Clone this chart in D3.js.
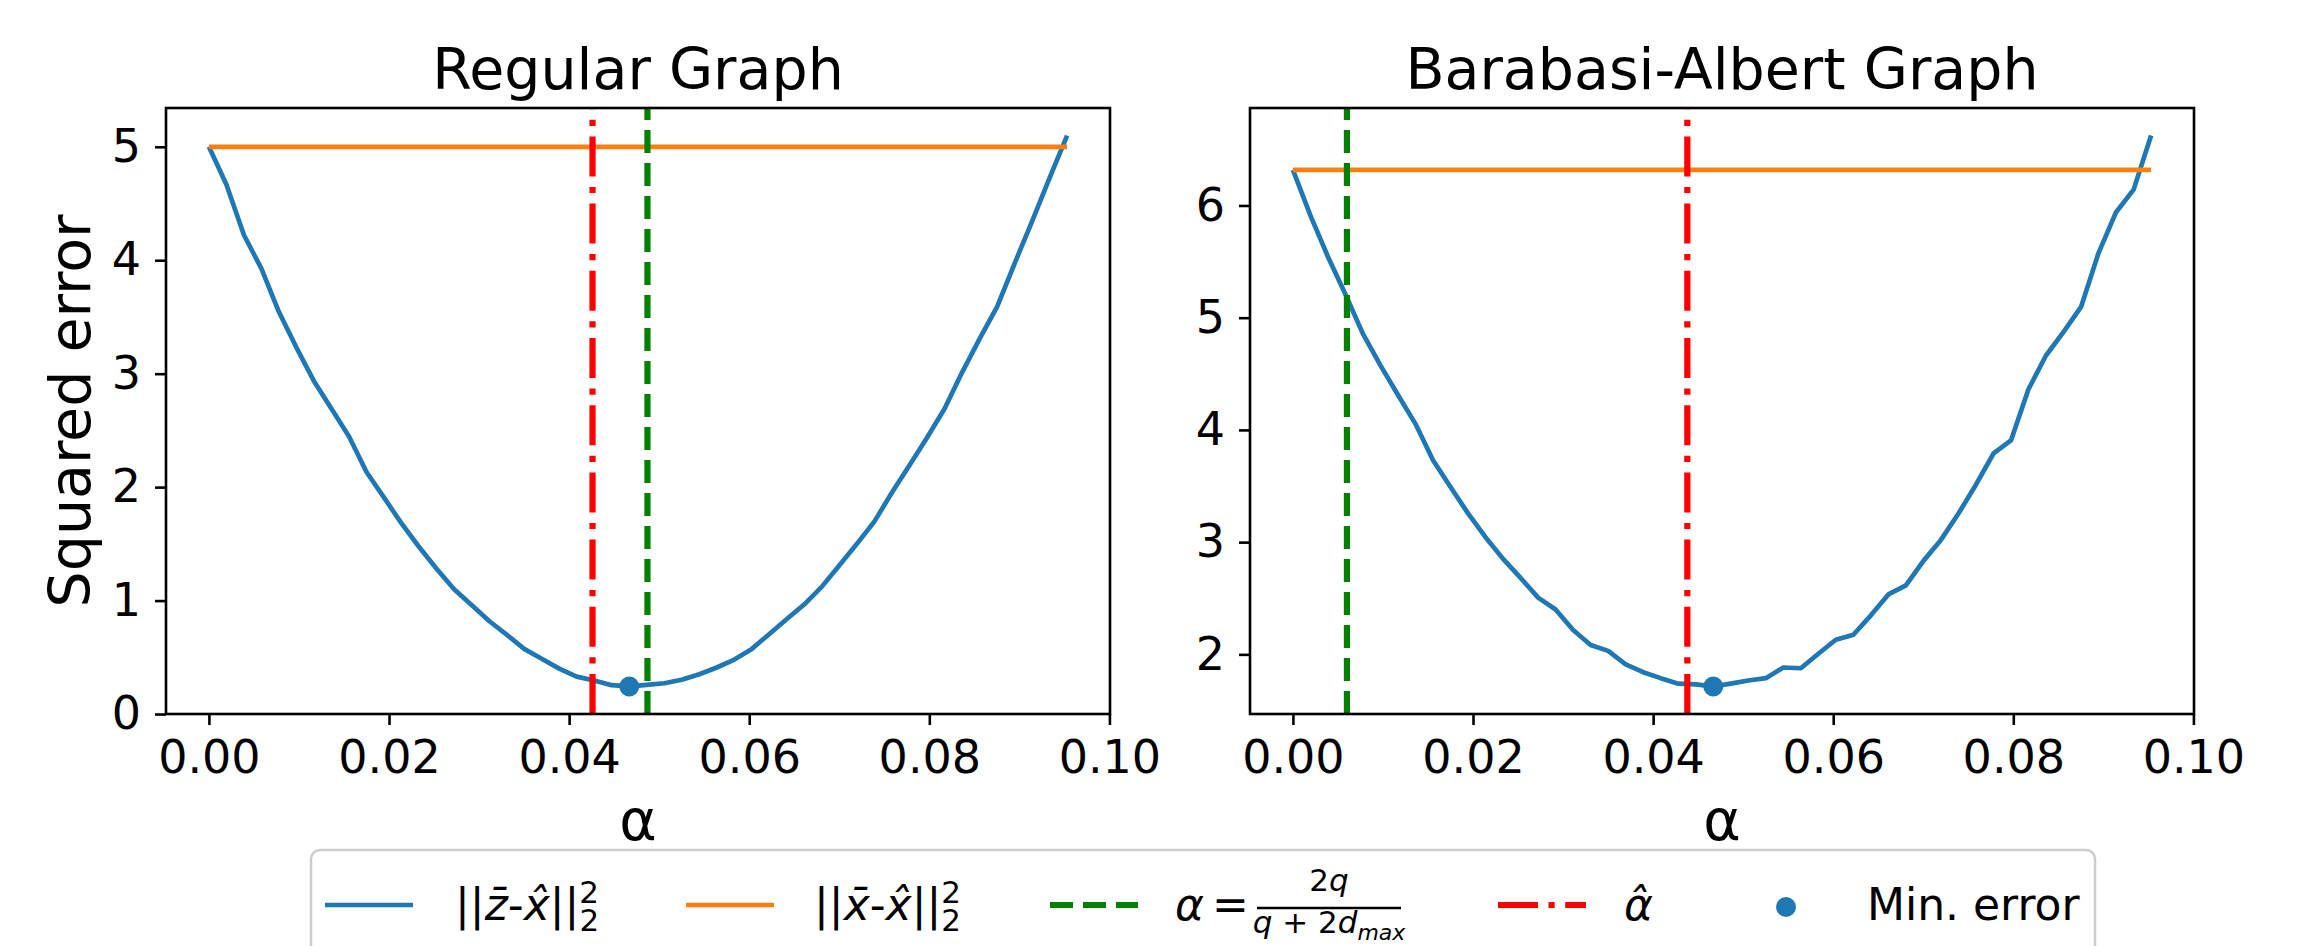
<!DOCTYPE html>
<html>
<head>
<meta charset="utf-8">
<script src="https://cdn.jsdelivr.net/npm/d3@7"></script>
<style>
  body { margin: 0; background: #fff; }
  text { font-family: "DejaVu Sans", sans-serif; }
</style>
</head>
<body>
<div id="chart"></div>
<script>
// Size of the figure
const WIDTH = 2305;
const HEIGHT = 946;

// Step size alpha (x values shared by both panels)
const alpha = [
  0, 0.00194, 0.00389, 0.00583, 0.00778, 0.00972, 0.01167, 0.01361, 0.01556, 0.0175,
  0.01945, 0.02139, 0.02334, 0.02528, 0.02723, 0.02917, 0.03112, 0.03306, 0.03501, 0.03695,
  0.0389, 0.04084, 0.04279, 0.04473, 0.04668, 0.04862, 0.05057, 0.05251, 0.05446, 0.0564,
  0.05835, 0.06029, 0.06224, 0.06418, 0.06613, 0.06807, 0.07002, 0.07196, 0.07391, 0.07585,
  0.0778, 0.07974, 0.08169, 0.08363, 0.08558, 0.08752, 0.08947, 0.09141, 0.09336, 0.0953
];

// ||z - x||^2 for the regular graph
const regularErr = [
  5.0, 4.667, 4.222, 3.926, 3.543, 3.23, 2.934, 2.69, 2.447, 2.133,
  1.907, 1.68, 1.472, 1.28, 1.1, 0.96, 0.82, 0.7, 0.574, 0.487,
  0.4, 0.33, 0.296, 0.254, 0.243, 0.257, 0.271, 0.302, 0.351, 0.41,
  0.48, 0.574, 0.706, 0.838, 0.967, 1.123, 1.312, 1.5, 1.698, 1.952,
  2.192, 2.436, 2.69, 3.01, 3.306, 3.588, 3.971, 4.343, 4.726, 5.099
];

// ||z - x||^2 for the Barabasi-Albert graph
const baErr = [
  6.317, 5.912, 5.543, 5.208, 4.856, 4.575, 4.311, 4.054, 3.73, 3.491,
  3.256, 3.044, 2.851, 2.682, 2.506, 2.4, 2.217, 2.084, 2.031, 1.911,
  1.841, 1.788, 1.739, 1.732, 1.714, 1.739, 1.767, 1.788, 1.883, 1.876,
  2.006, 2.13, 2.175, 2.348, 2.534, 2.615, 2.833, 3.02, 3.255, 3.512,
  3.79, 3.906, 4.364, 4.663, 4.874, 5.096, 5.578, 5.94, 6.141, 6.623
];

// ||x_bar - x||^2 (constant lines)
const baselineErr = [5.0, 6.317];

// vertical lines: alpha = 2q/(q+2dmax) and alpha hat
const alphaFormula = [0.0487, 0.006];
const alphaHat = [0.0426, 0.0438];

// Tick values
const xTicks = [0, 0.02, 0.04, 0.06, 0.08, 0.1];
const regularYTicks = [0, 1, 2, 3, 4, 5];
const baYTicks = [2, 3, 4, 5, 6];

const titles = ["Regular Graph", "Barabasi-Albert Graph"];

// Colours (matplotlib defaults)
const BLUE = "#1f77b4";
const ORANGE = "#ff7f0e";
const GREEN = "#008000";
const RED = "#ff0000";

const TOP = 108;
const BOTTOM = 714;
const AX_W = 944;
const LINE_W = 4.7;
const VLINE_W = 6.2;
const DASHED = "23,10";
const DASHDOT = "40,10.5,6.2,10.5";

var svg = d3
  .select("#chart")
  .append("svg")
  .attr("width", WIDTH)
  .attr("height", HEIGHT);

svg.append("rect").attr("width", WIDTH).attr("height", HEIGHT).attr("fill", "#fff");

/* matplotlib style autoscale: 5% margin */
function padded(vals) {
  const lo = d3.min(vals), hi = d3.max(vals);
  const m = (hi - lo) * 0.05;
  return [lo - m, hi + m];
}

function drawPanel(i, left, err, yTicks, withYLabel) {
  const g = svg.append("g");

  const x = d3.scaleLinear().domain(padded(alpha)).range([left, left + AX_W]);
  const y = d3
    .scaleLinear()
    .domain(padded(err.concat([baselineErr[i]])))
    .range([BOTTOM, TOP]);

  // clip
  g.append("clipPath")
    .attr("id", "clip" + i)
    .append("rect")
    .attr("x", left)
    .attr("y", TOP)
    .attr("width", AX_W)
    .attr("height", BOTTOM - TOP);

  const plot = g.append("g").attr("clip-path", "url(#clip" + i + ")");

  const line = d3
    .line()
    .x((d) => x(d[0]))
    .y((d) => y(d[1]));

  // error curve
  plot
    .append("path")
    .datum(alpha.map((a, k) => [a, err[k]]))
    .attr("d", line)
    .attr("fill", "none")
    .attr("stroke", BLUE)
    .attr("stroke-width", LINE_W)
    .attr("stroke-linejoin", "round");

  // baseline
  plot
    .append("path")
    .datum([
      [alpha[0], baselineErr[i]],
      [alpha[alpha.length - 1], baselineErr[i]]
    ])
    .attr("d", line)
    .attr("fill", "none")
    .attr("stroke", ORANGE)
    .attr("stroke-width", LINE_W);

  // vertical lines
  const yd = y.domain();
  plot
    .append("path")
    .datum([[alphaFormula[i], yd[0]], [alphaFormula[i], yd[1]]])
    .attr("d", line)
    .attr("stroke", GREEN)
    .attr("stroke-width", VLINE_W)
    .attr("stroke-dasharray", DASHED);

  plot
    .append("path")
    .datum([[alphaHat[i], yd[0]], [alphaHat[i], yd[1]]])
    .attr("d", line)
    .attr("stroke", RED)
    .attr("stroke-width", VLINE_W)
    .attr("stroke-dasharray", DASHDOT);

  // min error
  const k = d3.minIndex(err);
  plot
    .append("circle")
    .attr("cx", x(alpha[k]))
    .attr("cy", y(err[k]))
    .attr("r", 10)
    .attr("fill", BLUE);

  // Axes
  const xAxis = g
    .append("g")
    .attr("transform", "translate(0," + BOTTOM + ")")
    .call(
      d3
        .axisBottom(x)
        .tickValues(xTicks)
        .tickFormat(d3.format(".2f"))
        .tickSizeInner(11)
        .tickSizeOuter(0)
        .tickPadding(15)
    );

  const yAxis = g
    .append("g")
    .attr("transform", "translate(" + left + ",0)")
    .call(
      d3
        .axisLeft(y)
        .tickValues(yTicks)
        .tickFormat(d3.format("d"))
        .tickSizeInner(11)
        .tickSizeOuter(0)
        .tickPadding(14)
    );

  [xAxis, yAxis].forEach((a) => {
    a.select(".domain").remove();
    a.attr("font-family", null).attr("font-size", null);
    a.selectAll("line").attr("stroke", "#000").attr("stroke-width", 2.6);
    a.selectAll("text").attr("fill", "#000").style("font-size", "46px");
  });

  // spines
  g.append("rect")
    .attr("x", left)
    .attr("y", TOP)
    .attr("width", AX_W)
    .attr("height", BOTTOM - TOP)
    .attr("fill", "none")
    .attr("stroke", "#000")
    .attr("stroke-width", 2.6);

  // title
  g.append("text")
    .attr("x", left + AX_W / 2)
    .attr("y", 89)
    .attr("text-anchor", "middle")
    .style("font-size", "57px")
    .text(titles[i]);

  // x label
  g.append("text")
    .attr("x", left + AX_W / 2)
    .attr("y", 840)
    .attr("text-anchor", "middle")
    .style("font-size", "57px")
    .text("α");

  if (withYLabel) {
    g.append("text")
      .attr("transform", "translate(90," + (TOP + BOTTOM) / 2 + ") rotate(-90)")
      .attr("text-anchor", "middle")
      .style("font-size", "57px")
      .text("Squared error");
  }
}

drawPanel(0, 166, regularErr, regularYTicks, true);
drawPanel(1, 1250, baErr, baYTicks, false);

// Legend
const leg = svg.append("g");
leg
  .append("rect")
  .attr("x", 311)
  .attr("y", 850)
  .attr("width", 1784)
  .attr("height", 140)
  .attr("rx", 9)
  .attr("fill", "#fff")
  .attr("fill-opacity", 0.8)
  .attr("stroke", "#cccccc")
  .attr("stroke-width", 2.5);

const HANDLE_Y = 905;
const TEXT_Y = 920;
const LEG_FS = 44;

function handleLine(x0, color, width, dash) {
  const l = leg
    .append("line")
    .attr("x1", x0)
    .attr("x2", x0 + 88)
    .attr("y1", HANDLE_Y)
    .attr("y2", HANDLE_Y)
    .attr("stroke", color)
    .attr("stroke-width", width);
  if (dash) l.attr("stroke-dasharray", dash);
}

/* ||a - x||_2^2 label */
function normLabel(x0, letter) {
  const t = leg
    .append("text")
    .attr("x", x0)
    .attr("y", TEXT_Y)
    .style("font-size", LEG_FS + "px");
  t.append("tspan").text("||");
  t.append("tspan").style("font-style", "italic").text(letter + "\u0304");
  t.append("tspan").text("-");
  t.append("tspan").style("font-style", "italic").text("x\u0302");
  t.append("tspan").text("||");
  t.append("tspan").attr("dy", -17).style("font-size", "31px").text("2");
  t.append("tspan")
    .attr("dx", -19.7)
    .attr("dy", 28)
    .style("font-size", "31px")
    .text("2");
}

handleLine(325, BLUE, LINE_W);
normLabel(455, "z");

handleLine(686, ORANGE, LINE_W);
normLabel(814, "x");

handleLine(1050, GREEN, VLINE_W, DASHED);
leg
  .append("text")
  .attr("x", 1175)
  .attr("y", TEXT_Y)
  .style("font-size", LEG_FS + "px")
  .style("font-style", "italic")
  .text("α");
leg
  .append("text")
  .attr("x", 1212)
  .attr("y", TEXT_Y)
  .style("font-size", LEG_FS + "px")
  .text("=");
leg
  .append("line")
  .attr("x1", 1257)
  .attr("x2", 1401)
  .attr("y1", 908)
  .attr("y2", 908)
  .attr("stroke", "#000")
  .attr("stroke-width", 2.6);
const num = leg
  .append("text")
  .attr("x", 1329)
  .attr("y", 891)
  .attr("text-anchor", "middle")
  .style("font-size", "31px");
num.append("tspan").text("2");
num.append("tspan").style("font-style", "italic").text("q");
const den = leg
  .append("text")
  .attr("x", 1329)
  .attr("y", 933)
  .attr("text-anchor", "middle")
  .style("font-size", "31px");
den.append("tspan").style("font-style", "italic").text("q");
den.append("tspan").text(" + 2");
den.append("tspan").style("font-style", "italic").text("d");
den.append("tspan")
  .attr("dy", 7)
  .style("font-style", "italic")
  .style("font-size", "22px")
  .text("max");

handleLine(1498, RED, VLINE_W, DASHDOT);
leg
  .append("text")
  .attr("x", 1624)
  .attr("y", TEXT_Y)
  .style("font-size", LEG_FS + "px")
  .style("font-style", "italic")
  .text("α\u0302");

leg
  .append("circle")
  .attr("cx", 1786)
  .attr("cy", 907)
  .attr("r", 10)
  .attr("fill", BLUE);
leg
  .append("text")
  .attr("x", 1867)
  .attr("y", TEXT_Y)
  .style("font-size", LEG_FS + "px")
  .text("Min. error");
</script>
</body>
</html>
